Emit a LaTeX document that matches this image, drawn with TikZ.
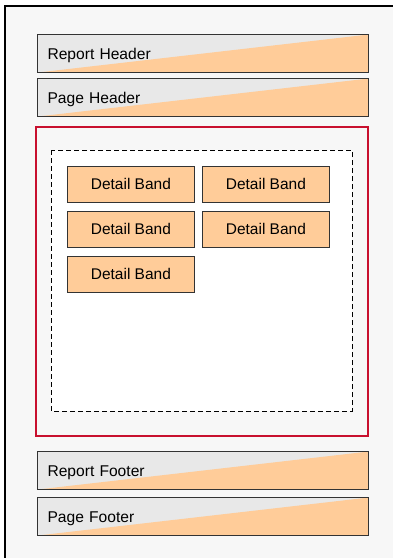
\documentclass[tikz,border=0pt]{standalone}
\usepackage{fontspec}
\setmainfont{Liberation Sans}
\definecolor{pagebg}{HTML}{F7F7F7}
\definecolor{bandgray}{HTML}{E8E8E8}
\definecolor{bandorange}{HTML}{FFCC99}
\definecolor{bandline}{HTML}{333333}
\definecolor{detailred}{HTML}{C8102E}
\tikzset{
    band/.style={draw=bandline, line width=0.8pt, fill=bandgray,
        minimum width=248.25pt, minimum height=28.5pt, anchor=north west,
        text width=233.25pt, align=left, inner xsep=7.5pt,
        text height=8.4pt, text depth=0pt, font=\fontsize{11.7}{13}\selectfont,
        path picture={\fill[bandorange] (path picture bounding box.south west)
            -- (path picture bounding box.north east)
            -- (path picture bounding box.south east) -- cycle;}},
    detail/.style={draw=bandline, line width=0.6pt, fill=bandorange,
        minimum width=95.25pt, minimum height=27pt, anchor=north west,
        font=\fontsize{11.6}{13}\selectfont}
}
\begin{document}
\begin{tikzpicture}[x=0.75pt,y=-0.75pt]
    \useasboundingbox (0,0) rectangle (393,558);
    % page
    \path[fill=pagebg] (5,6) rectangle (400,570);
    \draw[line width=1.5pt] (5,570) -- (5,6) -- (400,6);
    % header and footer bands
    \node[band] (rephead) at (37,34) {Report Header};
    \node[band] (pagehead) at (37,78) {Page Header};
    \node[band] (repfoot) at (37,451) {Report Footer};
    \node[band] (pagefoot) at (37,497) {Page Footer};
    % detail area
    \draw[detailred, line width=1.6pt, fill=pagebg] (36,127) rectangle (368,436);
    \draw[line width=0.75pt, dash pattern=on 3.5pt off 2.5pt, fill=white] (51,150) rectangle (352,411);
    \foreach \n/\c/\r in {1/0/0,2/1/0,3/0/1,4/1/1,5/0/2}
    {
        \node[detail] (detail\n) at ({67+135*\c},{166+45*\r}) {Detail Band};
    }
\end{tikzpicture}
\end{document}
